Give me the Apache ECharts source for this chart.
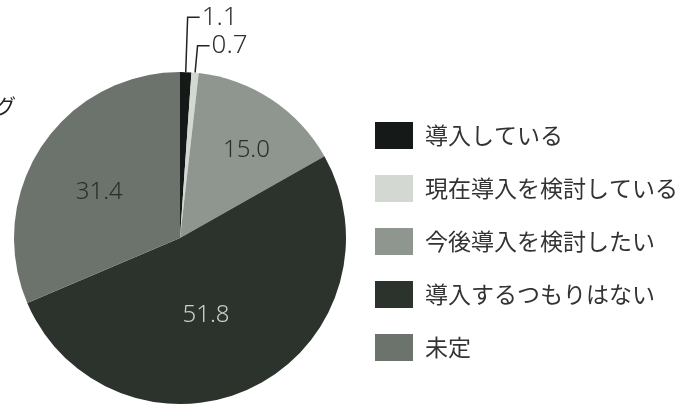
<!DOCTYPE html>
<html>
<head>
<meta charset="utf-8">
<script src="https://cdn.jsdelivr.net/npm/echarts@6/dist/echarts.min.js"></script>
<style>
html,body{margin:0;padding:0;background:#fff;}
#chart{width:697px;height:404px;}
</style>
</head>
<body>
<div id="chart"></div>
<script>
const categories = ['導入している', '現在導入を検討している', '今後導入を検討したい', '導入するつもりはない', '未定'];
const values = [1.1, 0.7, 15.0, 51.8, 31.4];
const colors = ['#151917', '#d3d8d3', '#8e968f', '#2c332d', '#6b736c'];

const labelFont = '"Noto Sans", "Noto Sans CJK JP", sans-serif';
const insideShift = {2: [19, -16], 3: [-12, 0], 4: [-9, 2]};
const outsideLines = {0: [55, 12], 1: [27, 12]};

const data = categories.map((name, i) => {
  const item = { name: name, value: values[i], itemStyle: { color: colors[i], borderWidth: 0 } };
  if (outsideLines[i]) {
    item.label = { show: true, position: 'outside', color: '#333', fontSize: 26, fontWeight: 300,
                   fontFamily: labelFont, distanceToLabelLine: 2 };
    item.labelLine = { show: true, length: outsideLines[i][0], length2: outsideLines[i][1],
                       lineStyle: { color: '#222', width: 1.5 } };
  } else {
    item.label = { show: true, position: 'inside', fontSize: 24, fontWeight: 300, fontFamily: labelFont,
                   color: i === 3 ? '#c9cec9' : '#2a2e2b' };
    item.labelLine = { show: false };
  }
  return item;
});

const chart = echarts.init(document.getElementById('chart'));
chart.setOption({
  animation: false,
  graphic: [{
    type: 'text', left: -4, top: 96,
    style: { text: 'グ', fontSize: 20, fill: '#222', fontFamily: '"Noto Sans CJK JP", sans-serif' }
  }],
  legend: {
    orient: 'vertical', left: 370, top: 117,
    itemWidth: 38, itemHeight: 27, itemGap: 26,
    icon: 'rect',
    data: categories,
    textStyle: { fontSize: 23, color: '#333', fontFamily: '"Noto Sans CJK JP", sans-serif', padding: [0, 0, 0, 7] },
    selectedMode: false
  },
  series: [{
    type: 'pie',
    center: [180, 238],
    radius: 166,
    startAngle: 90,
    clockwise: true,
    avoidLabelOverlap: false,
    itemStyle: { borderWidth: 0 },
    label: {
      formatter: p => p.value.toFixed(1)
    },
    labelLine: { smooth: false, minTurnAngle: 0, maxSurfaceAngle: 180 },
    labelLayout: function (p) {
      const s = insideShift[p.dataIndex];
      if (s) return { dx: s[0], dy: s[1] };
      return {};
    },
    emphasis: { disabled: true },
    data: data
  }]
});
</script>
</body>
</html>
